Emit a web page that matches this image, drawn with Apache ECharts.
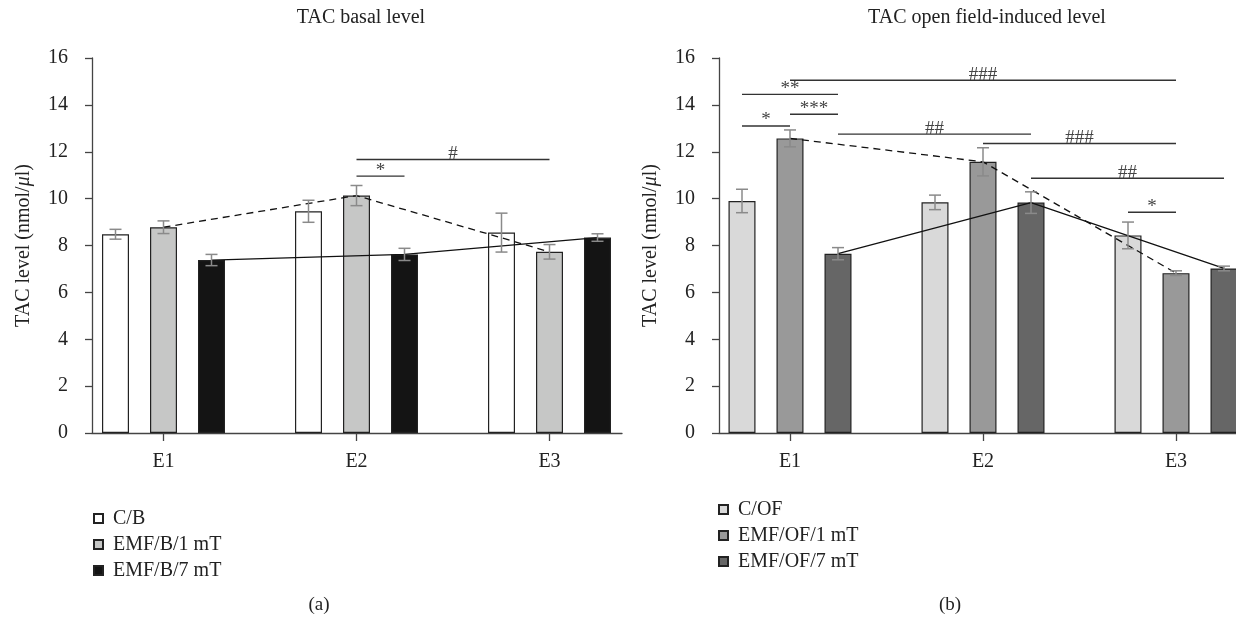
<!DOCTYPE html>
<html><head><meta charset="utf-8">
<script src="https://cdn.jsdelivr.net/npm/echarts@6/dist/echarts.min.js"></script>
<style>html,body{margin:0;padding:0;background:#fff}#c{width:1236px;height:618px}</style>
</head><body><div id="c"></div>
<script>
// ---------- data ----------
const categories = ['E1', 'E2', 'E3'];
const yMin = 0, yMax = 16, yStep = 2;

// (a) basal level
const basalTitle = 'TAC basal level';
const basalNames = ['C/B', 'EMF/B/1 mT', 'EMF/B/7 mT'];
const basalCB = [8.48, 9.46, 8.55];
const basalCBErr = [0.21, 0.47, 0.83];
const basal1 = [8.78, 10.13, 7.73];
const basal1Err = [0.27, 0.43, 0.31];
const basal7 = [7.38, 7.62, 8.34];
const basal7Err = [0.24, 0.26, 0.16];
// [fromGroup, fromBar, toGroup, toBar, y, label]
const basalSig = [
  [1, 1, 1, 2, 10.96, '*'],
  [1, 1, 2, 1, 11.67, '#']
];

// (b) open field-induced level
const ofTitle = 'TAC open field-induced level';
const ofNames = ['C/OF', 'EMF/OF/1 mT', 'EMF/OF/7 mT'];
const ofC = [9.90, 9.84, 8.43];
const ofCErr = [0.50, 0.31, 0.57];
const of1 = [12.57, 11.57, 6.82];
const of1Err = [0.36, 0.60, 0.10];
const of7 = [7.65, 9.83, 7.02];
const of7Err = [0.26, 0.46, 0.10];
const ofSig = [
  [0, 0, 0, 1, 13.10, '*'],
  [0, 0, 0, 2, 14.45, '**'],
  [0, 1, 0, 2, 13.60, '***'],
  [0, 1, 2, 1, 15.05, '###'],
  [0, 2, 1, 2, 12.75, '##'],
  [1, 1, 2, 1, 12.35, '###'],
  [1, 2, 2, 2, 10.87, '##'],
  [2, 0, 2, 1, 9.42, '*']
];

// ---------- layout / style ----------
const FONT = '"Liberation Serif", "DejaVu Serif", serif';
const BAND = 193, BAR_W = 27, BAR_GAP = 21, PITCH = BAR_W + BAR_GAP;
const OFF = PITCH / BAND;               // bar offset in category units
const TOP = 58, H = 375;
const TXT = '#222';

const charts = [
  { title: basalTitle, caption: '(a)', names: basalNames,
    vals: [basalCB, basal1, basal7], errs: [basalCBErr, basal1Err, basal7Err],
    colors: ['#ffffff', '#c6c7c6', '#141414'], sig: basalSig,
    e1Center: 163.5, axisX: 92, axisRight: 622, titleX: 356, capX: 314, legendTop: 503, legendLeft: 88 },
  { title: ofTitle, caption: '(b)', names: ofNames,
    vals: [ofC, of1, of7], errs: [ofCErr, of1Err, of7Err],
    colors: ['#d9d9d9', '#999999', '#666666'], sig: ofSig,
    e1Center: 790, axisX: 719, axisRight: 1236, titleX: 982, capX: 945, legendTop: 494, legendLeft: 713 }
];

const option = {
  backgroundColor: '#fff', animation: false,
  title: [], legend: [], grid: [], xAxis: [], yAxis: [], series: []
};

charts.forEach((c, k) => {
  const g = option.grid.length;
  option.grid.push({ left: c.axisX, top: TOP, width: c.axisRight - c.axisX, height: H });
  const xMin = -(c.e1Center - c.axisX) / BAND;
  const xMax = xMin + (c.axisRight - c.axisX) / BAND;
  const catIdx = categories.map((_, i) => i);

  const xi = option.xAxis.length;
  option.xAxis.push({
    type: 'value', gridIndex: g, min: xMin, max: xMax,
    axisLine: { show: true, onZero: false, lineStyle: { color: '#444', width: 1.3 } },
    axisTick: { show: true, customValues: catIdx, length: 8, lineStyle: { color: '#444', width: 1.3 } },
    axisLabel: { show: true, customValues: catIdx, margin: 19, fontSize: 20, color: TXT, fontFamily: FONT,
      formatter: v => categories[Math.round(v)] },
    splitLine: { show: false }
  });
  const yi = option.yAxis.length;
  option.yAxis.push({
    type: 'value', gridIndex: g, min: yMin, max: yMax, interval: yStep,
    axisLine: { show: true, onZero: false, lineStyle: { color: '#444', width: 1.3 } },
    axisTick: { show: true, length: 7, lineStyle: { color: '#444', width: 1.3 } },
    axisLabel: { margin: 24, fontSize: 20, color: TXT, fontFamily: FONT },
    splitLine: { show: false },
    name: 'TAC level (nmol/{i|μ}l)', nameLocation: 'middle', nameGap: 58,
    nameTextStyle: { fontSize: 20, color: TXT, fontFamily: FONT,
      rich: { i: { fontStyle: 'italic', fontSize: 20, color: TXT, fontFamily: FONT } } }
  });

  option.title.push({ text: c.title, left: c.titleX, textAlign: 'center', top: 3,
    textStyle: { fontSize: 20, fontWeight: 'normal', color: TXT, fontFamily: FONT } });
  option.title.push({ text: c.caption, left: c.capX, textAlign: 'center', top: 591,
    textStyle: { fontSize: 19, fontWeight: 'normal', color: TXT, fontFamily: FONT } });

  option.legend.push({
    data: c.names, orient: 'vertical', left: c.legendLeft, top: c.legendTop,
    icon: 'rect', itemWidth: 9, itemHeight: 9, itemGap: 5,
    textStyle: { fontSize: 20, lineHeight: 21, color: TXT, fontFamily: FONT, padding: [0, 0, 0, 5] },
    selectedMode: false
  });

  c.names.forEach((nm, s) => {
    option.series.push({
      name: nm, type: 'bar', xAxisIndex: xi, yAxisIndex: yi,
      data: c.vals[s].map((v, i) => [i, v]), barWidth: BAR_W,
      barGap: (BAR_GAP / BAR_W * 100).toFixed(2) + '%',
      itemStyle: { color: c.colors[s], borderColor: '#222', borderWidth: 1.2 },
      z: 2, silent: true
    });
  });

  // trend lines through the 1 mT (dashed) and 7 mT (solid) bars
  [[1, [7, 5]], [2, 'solid']].forEach(([s, type]) => {
    option.series.push({
      type: 'line', xAxisIndex: xi, yAxisIndex: yi, symbol: 'none', silent: true, z: 5,
      data: c.vals[s].map((v, i) => [i + (s - 1) * OFF, v]),
      lineStyle: { color: '#111', width: 1.3, type: type }
    });
  });

  // error bars
  c.names.forEach((nm, s) => {
    option.series.push({
      type: 'custom', xAxisIndex: xi, yAxisIndex: yi, silent: true, z: 6,
      data: c.vals[s].map((v, i) => [i + (s - 1) * OFF, v, c.errs[s][i]]),
      renderItem: function (params, api) {
        const xv = api.value(0), v = api.value(1), e = api.value(2);
        const pt = api.coord([xv, v + e]), pb = api.coord([xv, v - e]);
        const x = pt[0], cap = 6;
        const st = { stroke: '#8a8a8a', lineWidth: 1.5 };
        return { type: 'group', children: [
          { type: 'line', shape: { x1: x, y1: pt[1], x2: x, y2: pb[1] }, style: st },
          { type: 'line', shape: { x1: x - cap, y1: pt[1], x2: x + cap, y2: pt[1] }, style: st },
          { type: 'line', shape: { x1: x - cap, y1: pb[1], x2: x + cap, y2: pb[1] }, style: st }
        ] };
      }
    });
  });

  // significance brackets
  option.series.push({
    type: 'custom', xAxisIndex: xi, yAxisIndex: yi, silent: true, z: 6,
    data: c.sig.map(d => [d[0] + (d[1] - 1) * OFF, d[4], d[2] + (d[3] - 1) * OFF]),
    renderItem: function (params, api) {
      const d = c.sig[params.dataIndex];
      const p1 = api.coord([api.value(0), api.value(1)]);
      const p2 = api.coord([api.value(2), api.value(1)]);
      const x1 = p1[0], x2 = p2[0];
      return { type: 'group', children: [
        { type: 'line', shape: { x1: x1, y1: p1[1], x2: x2, y2: p1[1] }, style: { stroke: '#333', lineWidth: 1.4 } },
        { type: 'text', style: { text: d[5], x: (x1 + x2) / 2, y: p1[1] + 4,
          align: 'center', verticalAlign: 'bottom', textAlign: 'center', textVerticalAlign: 'bottom',
          fontSize: 19, fontFamily: FONT, fill: '#444' } }
      ] };
    }
  });
});

const chart = echarts.init(document.getElementById('c'), null, { renderer: 'canvas' });
chart.setOption(option);
</script>
</body></html>
